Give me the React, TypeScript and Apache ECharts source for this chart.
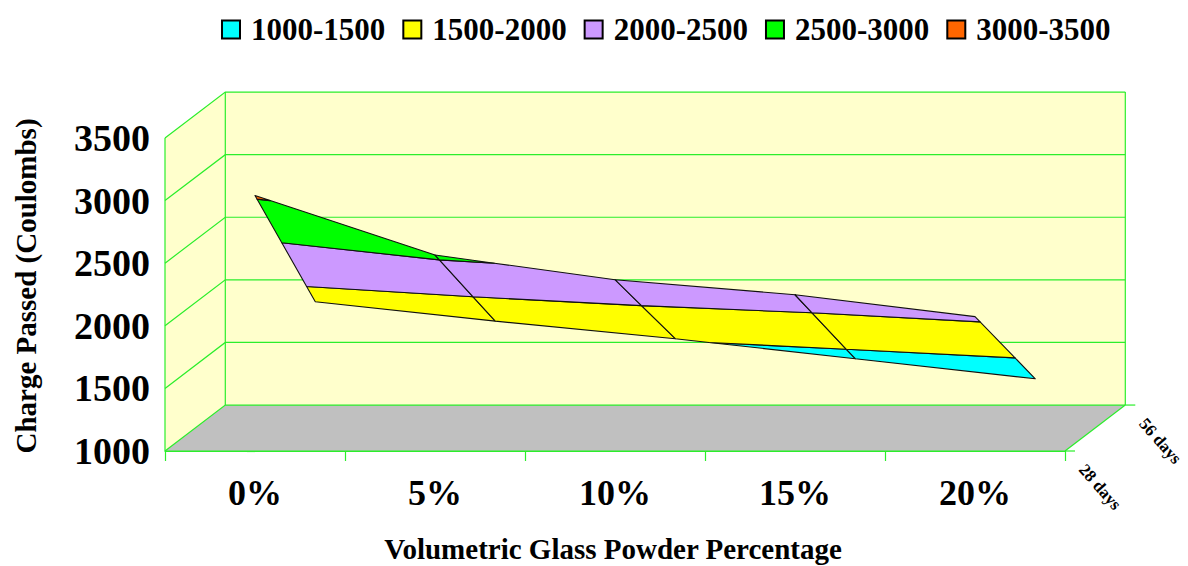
import React, { useEffect, useRef } from 'react';
import * as echarts from 'echarts';

// ---- data ----
const categories = ['0%', '5%', '10%', '15%', '20%'];
const seriesNames = ['28 days', '56 days'];
const days28 = [3040, 2565, 2368, 2248, 2073];
const days56 = [1825, 1670, 1530, 1370, 1210];
const bandNames = ['1000-1500', '1500-2000', '2000-2500', '2500-3000', '3000-3500'];
const bandEdges = [1000, 1500, 2000, 2500, 3000, 3500];
const bandColors = ['#00FFFF', '#FFFF00', '#CC99FF', '#00FF00', '#FF6600'];
const valueTicks = [1000, 1500, 2000, 2500, 3000, 3500];

// ---- projection parameters (oblique depth) ----
const DEPTH_X = 0.335; // category units shifted per depth unit
const DEPTH_V = 367; // value units shifted per depth unit
const FONT = "'Times New Roman', 'Liberation Serif', serif";
const GREEN = '#2BEE2B';
const WALL = '#FFFFCC';
const FLOOR = '#C0C0C0';

type V3 = [number, number, number]; // x (category), depth, value

function interp(a: V3, b: V3, level: number): V3 {
  const t = (level - a[2]) / (b[2] - a[2]);
  return [a[0] + t * (b[0] - a[0]), a[1] + t * (b[1] - a[1]), level];
}

function clip(poly: V3[], level: number, keepAbove: boolean): V3[] {
  const out: V3[] = [];
  const inside = (p: V3) => (keepAbove ? p[2] >= level : p[2] <= level);
  for (let k = 0; k < poly.length; k++) {
    const cur = poly[k];
    const prev = poly[(k + poly.length - 1) % poly.length];
    const ci = inside(cur);
    const pi = inside(prev);
    if (ci) {
      if (!pi) out.push(interp(prev, cur, level));
      out.push(cur);
    } else if (pi) {
      out.push(interp(prev, cur, level));
    }
  }
  return out;
}

export default function App() {
  const ref = useRef<HTMLDivElement>(null);

  useEffect(() => {
    if (!ref.current) return;
    const chart = echarts.init(ref.current, null, { renderer: 'svg' });
    const rows = [days28, days56];

    const proj = (api: any) => (x: number, d: number, v: number) =>
      api.coord([x + d * DEPTH_X, v + d * DEPTH_V]);

    const wallsRender = (params: any, api: any) => {
      const P = proj(api);
      const x0 = -0.5;
      const x1 = categories.length - 0.5;
      const vMin = valueTicks[0];
      const vMax = valueTicks[valueTicks.length - 1];
      const lineStyle = { stroke: GREEN, lineWidth: 1.2, fill: null };
      const children: any[] = [];
      children.push({
        type: 'polygon',
        shape: { points: [P(x0, 0, vMin), P(x0, 1, vMin), P(x0, 1, vMax), P(x0, 0, vMax)] },
        style: { fill: WALL },
      });
      children.push({
        type: 'polygon',
        shape: { points: [P(x0, 1, vMin), P(x1, 1, vMin), P(x1, 1, vMax), P(x0, 1, vMax)] },
        style: { fill: WALL },
      });
      children.push({
        type: 'polygon',
        shape: { points: [P(x0, 0, vMin), P(x1, 0, vMin), P(x1, 1, vMin), P(x0, 1, vMin)] },
        style: { fill: FLOOR },
      });
      valueTicks.forEach((v) => {
        children.push({
          type: 'polyline',
          shape: { points: [P(x0, 0, v), P(x0, 1, v), P(x1, 1, v)] },
          style: lineStyle,
        });
      });
      const seg = (a: number[], b: number[]) => ({
        type: 'line',
        shape: { x1: a[0], y1: a[1], x2: b[0], y2: b[1] },
        style: lineStyle,
      });
      children.push(seg(P(x0, 0, vMin), P(x0, 0, vMax)));
      children.push(seg(P(x0, 1, vMin), P(x0, 1, vMax)));
      children.push(seg(P(x1, 1, vMin), P(x1, 1, vMax)));
      children.push(seg(P(x0, 0, vMin), P(x1, 0, vMin)));
      children.push(seg(P(x1, 0, vMin), P(x1, 1, vMin)));
      seriesNames.forEach((name, d) => {
        const p = P(x1, d, vMin);
        children.push(seg(p, [p[0] + 10, p[1]]));
        children.push({
          type: 'text',
          x: p[0] + 35,
          y: p[1] + 36,
          rotation: -0.85,
          style: {
            text: name,
            fontSize: 17,
            fontWeight: 'bold',
            fontFamily: FONT,
            fill: '#000',
            align: 'center',
            verticalAlign: 'middle',
          },
        });
      });
      return { type: 'group', children };
    };

    const surfaceRender = (params: any, api: any) => {
      const P = proj(api);
      const i = params.dataIndex;
      const quad: V3[] = [
        [i, 0, rows[0][i]],
        [i + 1, 0, rows[0][i + 1]],
        [i + 1, 1, rows[1][i + 1]],
        [i, 1, rows[1][i]],
      ];
      const children: any[] = [];
      for (let b = 0; b < bandNames.length; b++) {
        let poly = clip(quad, bandEdges[b], true);
        if (poly.length < 3) continue;
        poly = clip(poly, bandEdges[b + 1], false);
        if (poly.length < 3) continue;
        children.push({
          type: 'polygon',
          shape: { points: poly.map((p) => P(p[0], p[1], p[2])) },
          style: { fill: bandColors[b], stroke: '#111', lineWidth: 1.1, lineJoin: 'round' },
        });
      }
      return { type: 'group', children };
    };

    const option: any = {
      animation: false,
      backgroundColor: '#ffffff',
      legend: {
        data: bandNames,
        left: 221,
        top: 14,
        padding: 0,
        itemWidth: 18,
        itemHeight: 18,
        itemGap: 17,
        icon: 'rect',
        selectedMode: false,
        textStyle: {
          fontSize: 31,
          fontWeight: 'bold',
          fontFamily: FONT,
          color: '#000',
          padding: [0, 0, 0, 6],
        },
      },
      grid: { left: 165, top: 138, width: 900, height: 313 },
      xAxis: [
        { type: 'value', min: -0.5, max: categories.length - 0.5, show: false },
        {
          type: 'category',
          data: categories,
          position: 'bottom',
          axisLine: { show: true, lineStyle: { color: GREEN, width: 1.2 } },
          axisTick: { show: true, length: 10, lineStyle: { color: GREEN, width: 1.2 } },
          axisLabel: {
            fontSize: 36,
            fontWeight: 'bold',
            fontFamily: FONT,
            color: '#000',
            margin: 24,
          },
          splitLine: { show: false },
        },
      ],
      yAxis: {
        type: 'value',
        min: 1000,
        max: 3500,
        interval: 500,
        axisLine: { show: true, lineStyle: { color: GREEN, width: 1.2 } },
        axisTick: { show: true, length: 8, lineStyle: { color: GREEN, width: 1.2 } },
        axisLabel: {
          fontSize: 38,
          fontWeight: 'bold',
          fontFamily: FONT,
          color: '#000',
          margin: 15,
          formatter: (v: number) => String(v),
        },
        splitLine: { show: false },
      },
      graphic: [
        {
          type: 'text',
          x: 26,
          y: 286,
          rotation: Math.PI / 2,
          style: {
            text: 'Charge Passed (Coulombs)',
            fontSize: 29,
            fontWeight: 'bold',
            fontFamily: FONT,
            fill: '#000',
            align: 'center',
            verticalAlign: 'middle',
          },
        },
        {
          type: 'text',
          x: 613,
          y: 549,
          style: {
            text: 'Volumetric Glass Powder Percentage',
            fontSize: 29,
            fontWeight: 'bold',
            fontFamily: FONT,
            fill: '#000',
            align: 'center',
            verticalAlign: 'middle',
          },
        },
      ],
      series: [
        ...bandNames.map((name, b) => ({
          type: 'bar',
          name,
          xAxisIndex: 1,
          yAxisIndex: 0,
          data: [],
          itemStyle: { color: bandColors[b], borderColor: '#000', borderWidth: 1 },
        })),
        {
          type: 'custom',
          name: 'walls',
          xAxisIndex: 0,
          yAxisIndex: 0,
          clip: false,
          silent: true,
          data: [[0, valueTicks[0]]],
          renderItem: wallsRender,
        },
        {
          type: 'custom',
          name: 'surface',
          xAxisIndex: 0,
          yAxisIndex: 0,
          clip: false,
          silent: true,
          data: categories.slice(0, -1).map((_, i) => [i, rows[0][i]]),
          renderItem: surfaceRender,
        },
      ],
    };
    chart.setOption(option);
    return () => chart.dispose();
  }, []);

  return (
    <div
      ref={ref}
      style={{ position: 'fixed', left: 0, top: 0, width: 1188, height: 566, background: '#fff' }}
    />
  );
}
